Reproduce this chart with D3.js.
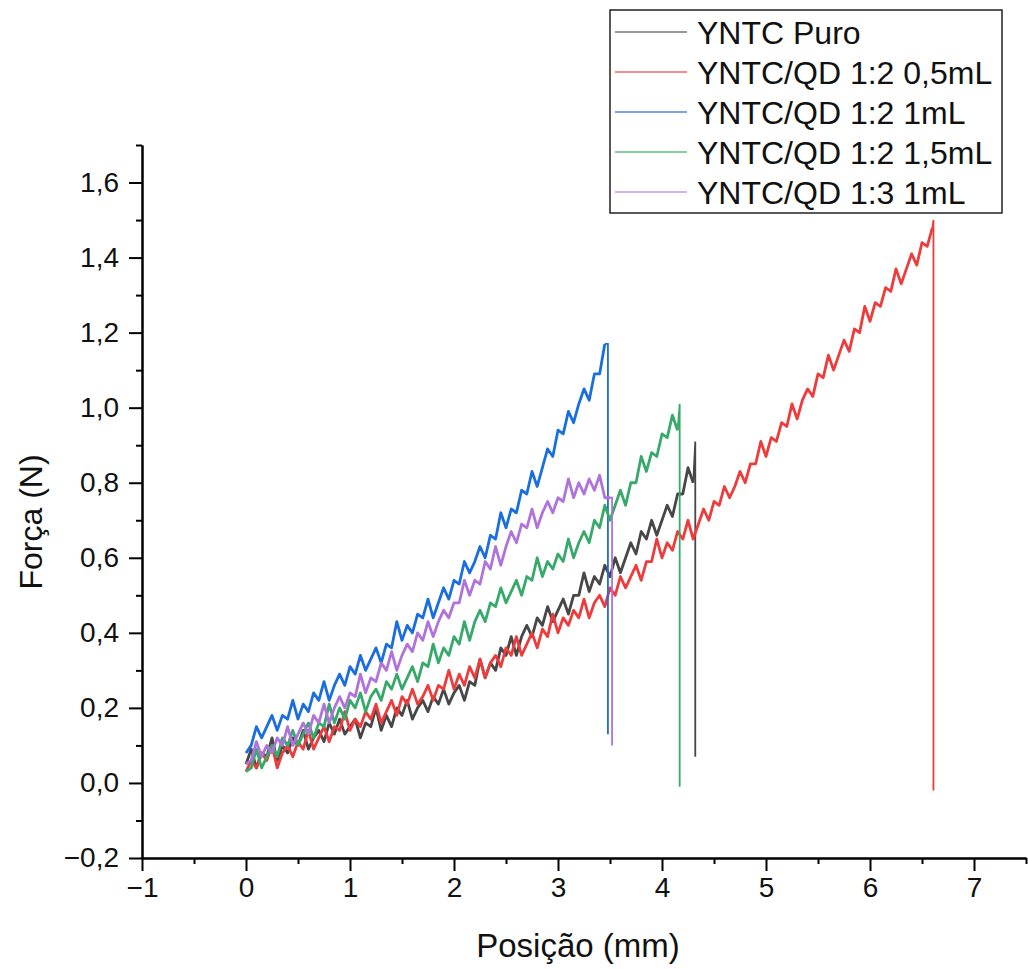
<!DOCTYPE html>
<html>
<head>
<meta charset="utf-8">
<script src="https://cdn.jsdelivr.net/npm/d3@7"></script>
<style>
  html, body { margin: 0; padding: 0; background: #fff; }
  svg { display: block; font-family: "Liberation Sans", Arial, sans-serif; }
</style>
</head>
<body>
<svg id="chart" width="1028" height="969"></svg>
<script>
// ---------- data ----------
const seriesNames = ["YNTC Puro", "YNTC/QD 1:2 0,5mL", "YNTC/QD 1:2 1mL", "YNTC/QD 1:2 1,5mL", "YNTC/QD 1:3 1mL"];
const seriesColors = ["#474747", "#ee3b3b", "#1a6ee0", "#37a96a", "#b073dc"];
const legendColors = ["#777777", "#f26a6a", "#4a86e0", "#5cbf84", "#c69be8"];
const sampleStep = 0.05; // mm between readings, all series start at 0 mm

const puroForce = [0.05,0.09,0.04,0.08,0.07,0.12,0.06,0.10,0.08,0.12,
  0.10,0.14,0.09,0.12,0.14,0.11,0.16,0.13,0.17,0.13,
  0.15,0.17,0.12,0.16,0.15,0.20,0.14,0.18,0.15,0.20,
  0.18,0.22,0.17,0.20,0.22,0.19,0.23,0.21,0.25,0.21,
  0.24,0.26,0.22,0.27,0.26,0.33,0.28,0.32,0.30,0.36,
  0.34,0.39,0.34,0.39,0.42,0.39,0.44,0.42,0.47,0.43,
  0.46,0.49,0.45,0.50,0.50,0.56,0.51,0.55,0.53,0.58,
  0.55,0.60,0.56,0.60,0.64,0.61,0.67,0.65,0.70,0.66,
  0.70,0.74,0.71,0.77,0.77,0.84,0.80];
const qd05Force = [0.03,0.06,0.04,0.08,0.06,0.10,0.04,0.08,0.10,0.07,
  0.11,0.09,0.14,0.09,0.12,0.15,0.11,0.15,0.14,0.19,
  0.14,0.17,0.15,0.19,0.17,0.21,0.16,0.19,0.22,0.18,
  0.23,0.21,0.25,0.21,0.23,0.26,0.22,0.26,0.25,0.30,
  0.25,0.29,0.26,0.31,0.28,0.33,0.28,0.32,0.34,0.31,
  0.36,0.34,0.39,0.34,0.37,0.40,0.36,0.41,0.39,0.45,
  0.40,0.44,0.42,0.46,0.44,0.49,0.44,0.48,0.50,0.47,
  0.52,0.50,0.55,0.52,0.55,0.58,0.54,0.59,0.59,0.65,
  0.60,0.64,0.62,0.67,0.65,0.70,0.65,0.69,0.73,0.70,
  0.75,0.74,0.79,0.76,0.79,0.83,0.80,0.85,0.85,0.91,
  0.87,0.92,0.91,0.96,0.95,1.01,0.97,1.02,1.05,1.03,
  1.09,1.08,1.14,1.10,1.14,1.18,1.15,1.21,1.20,1.27,
  1.23,1.28,1.27,1.32,1.31,1.37,1.33,1.37,1.41,1.38,
  1.44,1.43,1.48];
const qd1Force = [0.08,0.10,0.15,0.12,0.15,0.18,0.14,0.18,0.17,0.22,
  0.17,0.21,0.19,0.24,0.22,0.27,0.22,0.26,0.29,0.26,
  0.31,0.29,0.34,0.30,0.33,0.36,0.32,0.37,0.36,0.43,
  0.38,0.42,0.40,0.45,0.44,0.49,0.44,0.48,0.52,0.49,
  0.54,0.53,0.59,0.56,0.59,0.63,0.60,0.66,0.65,0.72,
  0.68,0.73,0.72,0.78,0.77,0.83,0.79,0.84,0.89,0.87,
  0.94,0.93,0.99,0.96,1.01,1.05,1.02,1.09,1.09,1.17];
const qd15Force = [0.03,0.04,0.09,0.04,0.07,0.10,0.07,0.12,0.10,0.14,
  0.10,0.13,0.16,0.12,0.16,0.15,0.21,0.16,0.20,0.17,
  0.22,0.20,0.24,0.19,0.23,0.25,0.22,0.27,0.25,0.29,
  0.25,0.28,0.31,0.27,0.32,0.31,0.37,0.32,0.36,0.34,
  0.39,0.37,0.43,0.38,0.43,0.46,0.43,0.48,0.47,0.52,
  0.48,0.51,0.54,0.50,0.55,0.54,0.60,0.55,0.59,0.57,
  0.61,0.59,0.65,0.60,0.64,0.67,0.64,0.70,0.68,0.74,
  0.70,0.74,0.78,0.74,0.80,0.80,0.87,0.83,0.88,0.87,
  0.93,0.92,0.98,0.94];
const qd13Force = [0.05,0.06,0.11,0.07,0.10,0.08,0.12,0.10,0.15,0.10,
  0.13,0.16,0.13,0.18,0.16,0.21,0.16,0.20,0.23,0.20,
  0.24,0.23,0.29,0.24,0.28,0.27,0.32,0.30,0.35,0.30,
  0.34,0.37,0.35,0.40,0.38,0.43,0.39,0.43,0.46,0.44,
  0.48,0.48,0.54,0.50,0.54,0.53,0.59,0.57,0.63,0.58,
  0.63,0.67,0.64,0.69,0.68,0.73,0.68,0.72,0.75,0.72,
  0.76,0.75,0.81,0.76,0.80,0.77,0.81,0.78,0.82,0.76,
  0.76];
// rupture: position (mm), last peak force and force after the drop (N)
const breakPos  = [4.32, 6.61, 3.48, 4.17, 3.52];
const breakPeak = [0.91, 1.50, 1.17, 1.01, 0.76];
const breakLow  = [0.07, -0.02, 0.13, -0.01, 0.10];

const xTicks = [-1, 0, 1, 2, 3, 4, 5, 6, 7];
const xMinorTicks = [-0.5, 0.5, 1.5, 2.5, 3.5, 4.5, 5.5, 6.5, 7.5];
const yTicks = [-0.2, 0, 0.2, 0.4, 0.6, 0.8, 1.0, 1.2, 1.4, 1.6];
const yMinorTicks = [-0.1, 0.1, 0.3, 0.5, 0.7, 0.9, 1.1, 1.3, 1.5, 1.7];

// ---------- chart ----------
const forces = [puroForce, qd05Force, qd1Force, qd15Force, qd13Force];
const svg = d3.select("#chart");
const x = d3.scaleLinear().domain([-1, 7.5]).range([142, 1026]);
const y = d3.scaleLinear().domain([-0.2, 1.7]).range([858, 145]);
const fmt = d => d3.format(".1f")(d).replace(".", ",").replace("-", "\u2212");
const fmtX = d => String(d).replace("-", "\u2212");

const line = d3.line().x(d => x(d[0])).y(d => y(d[1]));
const gData = svg.append("g");
forces.forEach((arr, i) => {
  const pts = arr.map((v, k) => [k * sampleStep, v]);
  gData.append("path")
    .datum(pts)
    .attr("fill", "none")
    .attr("stroke", seriesColors[i])
    .attr("stroke-width", 2.8)
    .attr("stroke-linejoin", "round")
    .attr("d", line);
  const last = pts[pts.length - 1];
  gData.append("path")
    .datum([last, [breakPos[i], breakPeak[i]], [breakPos[i], breakLow[i]]])
    .attr("fill", "none")
    .attr("stroke", seriesColors[i])
    .attr("stroke-width", 1.8)
    .attr("d", line);
});

// axes
const axisFont = 28;
const gx = svg.append("g").attr("transform", `translate(0,${y(-0.2)})`);
gx.call(d3.axisBottom(x).tickValues(xTicks).tickSize(13).tickSizeOuter(0).tickPadding(6).tickFormat(fmtX));
const gxm = svg.append("g").attr("transform", `translate(0,${y(-0.2)})`);
gxm.call(d3.axisBottom(x).tickValues(xMinorTicks).tickSize(6).tickSizeOuter(0).tickFormat(""));
const gy = svg.append("g").attr("transform", `translate(${x(-1)},0)`);
gy.call(d3.axisLeft(y).tickValues(yTicks).tickSize(13).tickSizeOuter(0).tickPadding(10).tickFormat(fmt));
const gym = svg.append("g").attr("transform", `translate(${x(-1)},0)`);
gym.call(d3.axisLeft(y).tickValues(yMinorTicks).tickSize(6).tickSizeOuter(0).tickFormat(""));

[gx, gxm, gy, gym].forEach(g => {
  g.selectAll("path.domain").attr("stroke", "#000").attr("stroke-width", 2);
  g.selectAll(".tick line").attr("stroke", "#000").attr("stroke-width", 2);
  g.selectAll(".tick text").attr("fill", "#111").style("font-size", axisFont + "px")
    .style("font-family", '"Liberation Sans", Arial, sans-serif');
});

// axis titles
svg.append("text")
  .attr("x", 578).attr("y", 957)
  .attr("text-anchor", "middle")
  .style("font-size", "33px").attr("fill", "#111")
  .text("Posição (mm)");
svg.append("text")
  .attr("transform", "translate(42,522) rotate(-90)")
  .attr("text-anchor", "middle")
  .style("font-size", "32px").attr("fill", "#111")
  .text("Força (N)");

// legend
const lg = svg.append("g");
lg.append("rect").attr("x", 610).attr("y", 10).attr("width", 392).attr("height", 203)
  .attr("fill", "#fff").attr("stroke", "#222").attr("stroke-width", 1.5);
const rowY = d3.scalePoint().domain(seriesNames).range([32, 192]);
seriesNames.forEach((name, i) => {
  lg.append("line").attr("x1", 615).attr("x2", 687)
    .attr("y1", rowY(name)).attr("y2", rowY(name))
    .attr("stroke", legendColors[i]).attr("stroke-width", 1.7);
  lg.append("text").attr("x", 697).attr("y", rowY(name))
    .attr("dy", "0.36em").style("font-size", "32px").attr("fill", "#111")
    .text(name);
});
</script>
</body>
</html>
